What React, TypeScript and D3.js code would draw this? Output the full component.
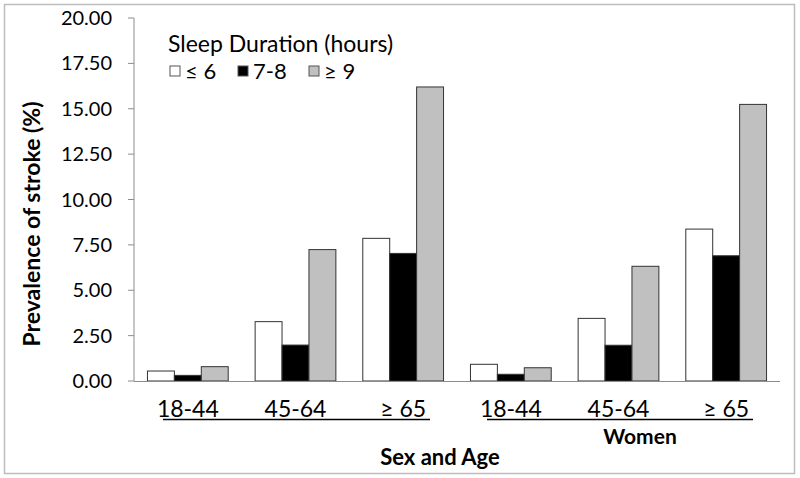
import React from "react";
import * as d3 from "d3";

const groups = ["M 18-44", "M 45-64", "M ≥ 65", "W 18-44", "W 45-64", "W ≥ 65"];
const series = ["≤ 6", "7-8", "≥ 9"];
const seriesColors = ["#ffffff", "#000000", "#c0c0c0"];
const valuesShort = [0.55, 3.27, 7.86, 0.92, 3.45, 8.37];
const valuesNormal = [0.31, 1.98, 7.03, 0.37, 1.97, 6.9];
const valuesLong = [0.79, 7.24, 16.2, 0.73, 6.32, 15.24];
const yTicks = [0, 2.5, 5, 7.5, 10, 12.5, 15, 17.5, 20];
const ageLabels = ["18-44", "45-64", "≥ 65", "18-44", "45-64", "≥ 65"];

const W = 800;
const H = 478;
const FONT = "Lato, 'Open Sans', sans-serif";

export default function App() {
  const x0 = d3.scaleBand().domain(groups).range([134, 780]).paddingInner(0.25).paddingOuter(0.125);
  const x1 = d3.scaleBand().domain(series).range([0, x0.bandwidth()]);
  const y = d3.scaleLinear().domain([0, 20]).range([381, 18]);
  const data = [valuesShort, valuesNormal, valuesLong];
  const center = (g: string) => (x0(g) as number) + x0.bandwidth() / 2;

  return (
    <svg width={W} height={H} style={{ position: "absolute", left: 0, top: 0 }} fontFamily={FONT}>
      <rect x={4.5} y={4.5} width={790} height={469} fill="#fff" stroke="#bdbdbd" strokeWidth={1.5} />
      {/* y axis */}
      <line x1={134} x2={134} y1={y(20)} y2={y(0)} stroke="#8c8c8c" strokeWidth={1} />
      {yTicks.map((t) => (
        <g key={t}>
          <line x1={128} x2={134} y1={y(t)} y2={y(t)} stroke="#8c8c8c" />
          <text x={112} y={y(t)} dy="0.35em" textAnchor="end" fontSize={20} fill="#000">
            {t.toFixed(2)}
          </text>
        </g>
      ))}
      {/* bars */}
      {groups.map((g, gi) => (
        <g key={g} transform={`translate(${x0(g)},0)`}>
          {series.map((s, si) => (
            <rect
              key={s}
              x={x1(s)}
              y={y(data[si][gi])}
              width={x1.bandwidth()}
              height={y(0) - y(data[si][gi])}
              fill={seriesColors[si]}
              stroke="#333"
              strokeWidth={1}
            />
          ))}
        </g>
      ))}
      {/* x axis */}
      <line x1={134} x2={780} y1={381.5} y2={381.5} stroke="#8c8c8c" strokeWidth={1} />
      {ageLabels.map((l, i) => (
        <text key={i} x={center(groups[i])} y={416.5} textAnchor="middle" fontSize={23}>
          {l}
        </text>
      ))}
      <line x1={163} x2={430} y1={419.5} y2={419.5} stroke="#000" strokeWidth={1.6} />
      <line x1={487} x2={753} y1={419.5} y2={419.5} stroke="#000" strokeWidth={1.6} />
      <text x={640} y={444} textAnchor="middle" fontSize={21} fontWeight="bold">
        Women
      </text>
      <text x={440} y={465} textAnchor="middle" fontSize={22} fontWeight="bold">
        Sex and Age
      </text>
      <text
        transform={`translate(40,224) rotate(-90)`}
        textAnchor="middle"
        fontSize={23}
        fontWeight="bold"
      >
        Prevalence of stroke (%)
      </text>
      {/* legend */}
      <text x={168} y={52} fontSize={23}>
        Sleep Duration (hours)
      </text>
      {series.map((s, i) => {
        const lx = [170, 238, 309][i];
        return (
          <g key={s}>
            <rect x={lx} y={66} width={10} height={10} fill={seriesColors[i]} stroke="#555" strokeWidth={1} />
            <text x={lx + 15} y={79} fontSize={22}>
              {s}
            </text>
          </g>
        );
      })}
    </svg>
  );
}
